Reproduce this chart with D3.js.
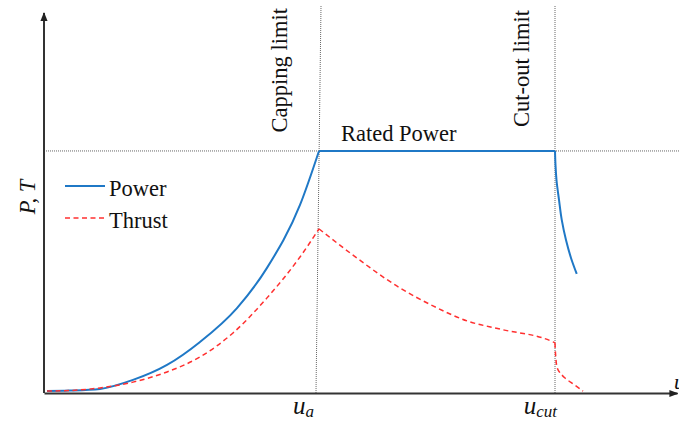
<!DOCTYPE html>
<html><head><meta charset="utf-8">
<script src="https://cdn.jsdelivr.net/npm/d3@7/dist/d3.min.js"></script>
<style>
html,body{margin:0;padding:0;background:#fff;}
</style></head>
<body>
<svg id="c" width="679" height="423"></svg>
<script>
// ---- data (u in arbitrary wind-speed units, P/T normalised to rated power = 1) ----
const uA = 11.0;      // capping limit
const uCut = 20.44;   // cut-out limit
const rated = 1.0;

const powerU   = [0.12, 1.0, 2.24, 3.56, 4.92, 6.24, 7.72, 8.92, 10.24, 11.0];
const powerV   = [0.008, 0.01, 0.017, 0.054, 0.116, 0.211, 0.351, 0.517, 0.777, 1.0];
const ratedU   = [11.0, 20.44];
const ratedV   = [1.0, 1.0];
const postU    = [20.44, 20.46, 20.5, 20.6, 20.71, 20.88, 21.08, 21.31];
const postV    = [1.0, 0.942, 0.88, 0.798, 0.715, 0.632, 0.558, 0.492];

const thrustU1 = [0.12, 1.0, 2.24, 3.56, 4.92, 6.24, 7.56, 8.92, 10.24, 11.0];
const thrustV1 = [0.008, 0.01, 0.021, 0.045, 0.087, 0.149, 0.248, 0.393, 0.562, 0.678];
const thrustU2 = [11.0, 12.24, 14.24, 15.56, 16.92, 18.24, 20.36, 20.44];
const thrustV2 = [0.678, 0.579, 0.434, 0.360, 0.298, 0.264, 0.211, 0.207];
const thrustU3 = [20.44, 20.47, 20.52, 20.84, 21.2, 21.56];
const thrustV3 = [0.207, 0.15, 0.107, 0.062, 0.035, 0.008];

const legendLabels = ["Power", "Thrust"];
const annotations = ["Capping limit", "Cut-out limit", "Rated Power"];

// ---- drawing ----
const svg = d3.select("#c");
const FONT = "Liberation Serif";
const FS = 22.5;
const x = d3.scaleLinear().domain([0, 25.32]).range([44, 677]);
const y = d3.scaleLinear().domain([0, 1.57]).range([393, 13]);

const blue = "#1f78c6", red = "#ff3030";

const defs = svg.append("defs");
defs.append("marker").attr("id","arr").attr("viewBox","0 0 10 10")
  .attr("refX",9).attr("refY",5).attr("markerWidth",4.5).attr("markerHeight",4.5)
  .attr("orient","auto").attr("markerUnits","strokeWidth")
  .append("path").attr("d","M0,1 L10,5 L0,9 Z").attr("fill","#222");

// reference lines (dotted)
function dl(x1,y1,x2,y2){
  svg.append("line").attr("x1",x1).attr("y1",y1).attr("x2",x2).attr("y2",y2)
    .attr("stroke","#666").attr("stroke-width",1).attr("stroke-dasharray","1,1");
}
dl(x(0), y(rated), 679, y(rated));
dl(x(uA)+2, 6, x(uA)-3, y(0));
dl(x(uCut), 6, x(uCut), y(0));

// axes
const xAxis = d3.axisBottom(x).tickValues([]).tickSizeOuter(0);
const yAxis = d3.axisLeft(y).tickValues([]).tickSizeOuter(0);
const gx = svg.append("g").attr("transform",`translate(0,${y(0)})`).call(xAxis);
const gy = svg.append("g").attr("transform",`translate(${x(0)},0)`).call(yAxis);
[gx,gy].forEach(g=>g.select(".domain").attr("stroke","#333").attr("stroke-width",2).attr("marker-end","url(#arr)"));
gy.select(".domain").attr("d",`M0,${y(0)}V${y.range()[1]}`);

// curves
const zip = (a,b)=>a.map((v,i)=>[v,b[i]]);
const line = d3.line().x(d=>x(d[0])).y(d=>y(d[1])).curve(d3.curveMonotoneX);
const lineP = d3.line().x(d=>x(d[0])).y(d=>y(d[1])).curve(d3.curveMonotoneY);

svg.append("path").attr("d",line(zip(powerU,powerV))).attr("fill","none").attr("stroke",blue).attr("stroke-width",2);
svg.append("path").attr("d",line(zip(ratedU,ratedV))).attr("fill","none").attr("stroke",blue).attr("stroke-width",2);
svg.append("path").attr("d",lineP(zip(postU,postV))).attr("fill","none").attr("stroke",blue).attr("stroke-width",2);

const dash = "5,3.5";
[[thrustU1,thrustV1,line],[thrustU2,thrustV2,line],[thrustU3,thrustV3,lineP]].forEach(([u,v,l])=>{
  svg.append("path").attr("d",l(zip(u,v))).attr("fill","none").attr("stroke",red)
    .attr("stroke-width",1.5).attr("stroke-dasharray",dash);
});

function txt(){ return svg.append("text").attr("font-family",FONT).attr("fill","#111"); }

// annotations
txt().attr("transform",`translate(${x(uA)-32},8) rotate(-90)`)
  .attr("text-anchor","end").attr("font-size",FS).text(annotations[0]);
txt().attr("transform",`translate(${x(uCut)-26},10) rotate(-90)`)
  .attr("text-anchor","end").attr("font-size",FS).text(annotations[1]);
txt().attr("x",x(uA)+22).attr("y",y(rated)-10)
  .attr("font-size",FS).text(annotations[2]);

// legend
legendLabels.forEach((t,i)=>{
  const yy = 186 + i*32;
  svg.append("line").attr("x1",65).attr("x2",105).attr("y1",yy).attr("y2",yy)
    .attr("stroke", i? red : blue).attr("stroke-width", i?1.5:2)
    .attr("stroke-dasharray", i? dash : null);
  txt().attr("x",109).attr("y",yy+10).attr("font-size",FS).text(t);
});

// axis labels
txt().attr("transform","translate(35,197) rotate(-90)")
  .attr("text-anchor","middle").attr("font-size",FS).attr("font-style","italic").text("P, T");

function sub(xx, main, s){
  const t = txt().attr("x",xx).attr("y",414).attr("text-anchor","end")
    .attr("font-size",25).attr("font-style","italic");
  t.append("tspan").text(main);
  t.append("tspan").attr("font-size",17).attr("dy",3).text(s);
}
sub(x(uA)-5, "u", "a");
sub(x(uCut)+2, "u", "cut");
txt().attr("x",674).attr("y",389).attr("font-size",22).attr("font-style","italic").text("u");
</script>
</body></html>
